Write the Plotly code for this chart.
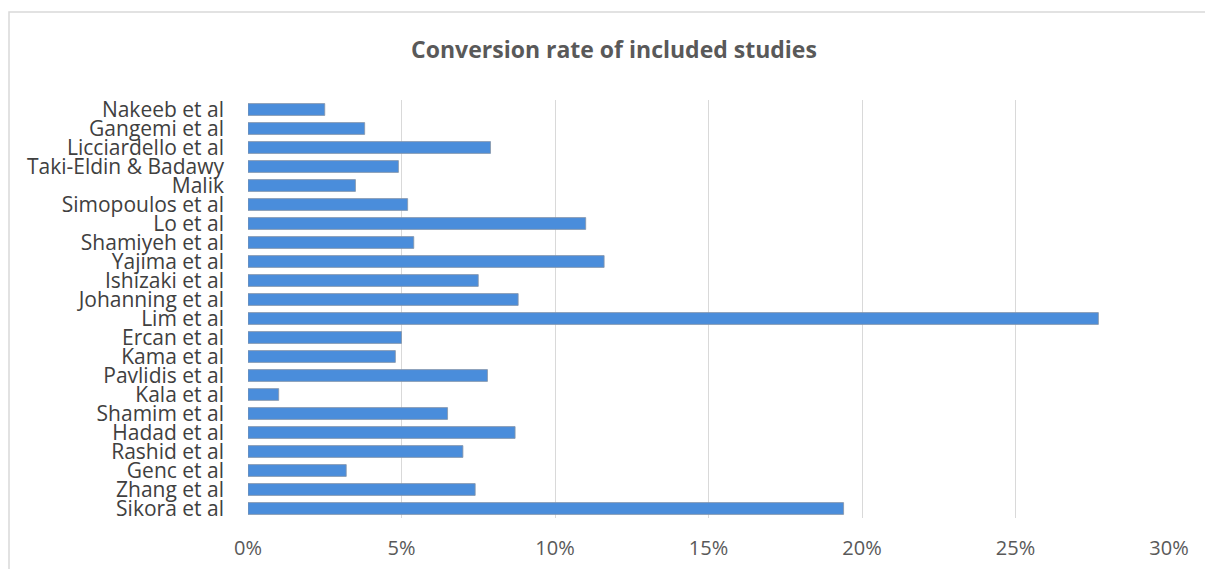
import plotly.graph_objects as go

studies = ["Sikora et al", "Zhang et al", "Genc et al", "Rashid et al", "Hadad et al",
           "Shamim et al", "Kala et al", "Pavlidis et al", "Kama et al", "Ercan et al",
           "Lim et al", "Johanning et al", "Ishizaki et al", "Yajima et al", "Shamiyeh et al",
           "Lo et al", "Simopoulos et al", "Malik", "Taki-Eldin & Badawy", "Licciardello et al",
           "Gangemi et al", "Nakeeb et al"]
conversion = [0.194, 0.074, 0.032, 0.070, 0.087,
              0.065, 0.010, 0.078, 0.048, 0.050,
              0.277, 0.088, 0.075, 0.116, 0.054,
              0.110, 0.052, 0.035, 0.049, 0.079,
              0.038, 0.025]
tick_vals = [0, 0.05, 0.10, 0.15, 0.20, 0.25, 0.30]

# page body has an 8px margin, so the figure is laid out 8px smaller
W, H = 1205, 561
L, R, T, B = 240, 44, 92, 50.5
pw, ph = W - L - R, H - T - B

fig = go.Figure()
fig.add_trace(go.Bar(
    x=conversion, y=studies, orientation="h",
    marker=dict(color="#4A8DDB", line=dict(color="#8795A8", width=0.8)),
    hoverinfo="x+y",
))

fig.update_layout(
    width=W, height=H,
    margin=dict(l=L, r=R, t=T, b=B, autoexpand=False),
    paper_bgcolor="white", plot_bgcolor="white",
    showlegend=False,
    bargap=0.38,
    title=dict(text="<b>Conversion rate of included studies</b>",
               x=606 / W, xref="container", xanchor="center",
               y=1 - 42 / H, yref="container", yanchor="middle",
               font=dict(family="Open Sans", size=23, color="#595959")),
    xaxis=dict(range=[0, 0.30], tickvals=tick_vals, tickformat=".0%",
               showgrid=True, gridcolor="#D9D9D9", gridwidth=1,
               zeroline=False, showline=False, ticks="",
               tickfont=dict(family="Open Sans", size=20, color="#595959"),
               ticklabelstandoff=16, automargin=False),
    yaxis=dict(categoryorder="array", categoryarray=studies,
               tickmode="array", tickvals=studies,
               showgrid=False, zeroline=False, showline=False, ticks="",
               tickfont=dict(family="Open Sans", size=21, color="#404040"),
               ticklabelstandoff=23, automargin=False),
    font=dict(family="Open Sans"),
)

# outer chart border (top and left edges visible in the frame)
x0 = (1 - L) / pw
x1 = (W + 10 - L) / pw
y1 = (H - B - 4) / ph
y0 = (H - B - H - 20) / ph
fig.add_shape(type="rect", xref="paper", yref="paper", x0=x0, x1=x1, y0=y0, y1=y1,
              line=dict(color="#D9D9D9", width=1.5), layer="below")

fig.write_html("out.html")
